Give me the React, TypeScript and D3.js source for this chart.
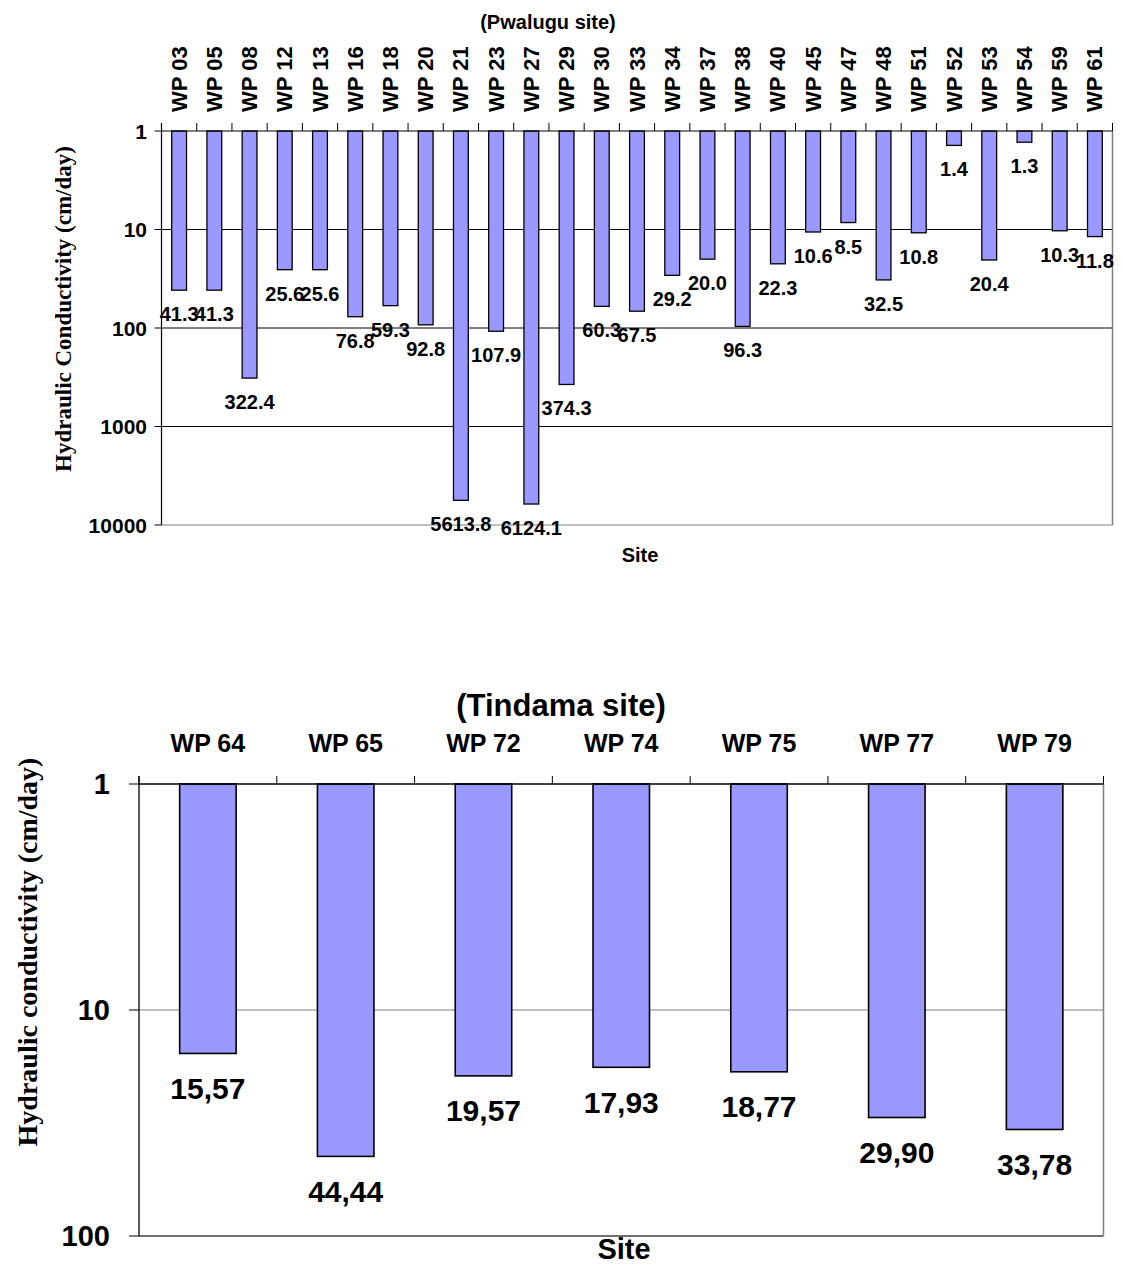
import React from 'react';
import * as d3 from 'd3';

// Pwalugu site (top chart)
const pwaluguSites = [
  'WP 03', 'WP 05', 'WP 08', 'WP 12', 'WP 13', 'WP 16', 'WP 18', 'WP 20', 'WP 21',
  'WP 23', 'WP 27', 'WP 29', 'WP 30', 'WP 33', 'WP 34', 'WP 37', 'WP 38', 'WP 40',
  'WP 45', 'WP 47', 'WP 48', 'WP 51', 'WP 52', 'WP 53', 'WP 54', 'WP 59', 'WP 61'
];
const pwaluguK = [
  41.3, 41.3, 322.4, 25.6, 25.6, 76.8, 59.3, 92.8, 5613.8,
  107.9, 6124.1, 374.3, 60.3, 67.5, 29.2, 20.0, 96.3, 22.3,
  10.6, 8.5, 32.5, 10.8, 1.4, 20.4, 1.3, 10.3, 11.8
];
const pwaluguTicks = [1, 10, 100, 1000, 10000];

// Tindama site (bottom chart)
const tindamaSites = ['WP 64', 'WP 65', 'WP 72', 'WP 74', 'WP 75', 'WP 77', 'WP 79'];
const tindamaK = [15.57, 44.44, 19.57, 17.93, 18.77, 29.9, 33.78];
const tindamaTicks = [1, 10, 100];

const SANS = 'Arial, "Liberation Sans", Helvetica, sans-serif';
const SERIF = '"Times New Roman", "Liberation Serif", serif';
const BAR = '#9999FF';

const fmtTop = d3.format('.1f');
const fmtBottom = (v: number) => d3.format('.2f')(v).replace('.', ',');

function TopChart() {
  const left = 161.5, right = 1112.5, top = 131, bottom = 525;
  const x = d3.scaleBand<string>().domain(pwaluguSites).range([left, right]).paddingInner(0.58).paddingOuter(0.29);
  const y = d3.scaleLog().domain([1, 10000]).range([top, bottom]);
  const step = x.step();
  const bounds = d3.range(pwaluguSites.length + 1).map(i => left + i * step);

  return (
    <g>
      <text x={548} y={22} textAnchor="middle" dominantBaseline="central" fontFamily={SANS} fontWeight="bold" fontSize={20}>(Pwalugu site)</text>
      {/* grid */}
      {pwaluguTicks.slice(1).map(t => (
        <line key={t} x1={left} x2={right} y1={y(t)} y2={y(t)} stroke={t === 10000 ? '#808080' : '#000'} strokeWidth={1} />
      ))}
      <line x1={right} x2={right} y1={top} y2={bottom} stroke="#808080" strokeWidth={1.5} />
      {/* bars */}
      {pwaluguSites.map((s, i) => (
        <rect key={s} x={x(s)} y={y(1)} width={x.bandwidth()} height={y(pwaluguK[i]) - y(1)} fill={BAR} stroke="#000" strokeWidth={1.3} />
      ))}
      {/* axes */}
      <line x1={left} x2={right} y1={top} y2={top} stroke="#000" strokeWidth={1.2} />
      <line x1={left} x2={left} y1={top - 8} y2={bottom} stroke="#000" strokeWidth={1.2} />
      {bounds.map((b, i) => (
        <line key={i} x1={b} x2={b} y1={top - 8} y2={top} stroke="#000" strokeWidth={1} />
      ))}
      {pwaluguTicks.map(t => (
        <g key={t}>
          <line x1={left - 7} x2={left} y1={y(t)} y2={y(t)} stroke="#000" strokeWidth={1} />
          <text x={147} y={y(t)} textAnchor="end" dominantBaseline="central" fontFamily={SANS} fontWeight="bold" fontSize={21}>{t}</text>
        </g>
      ))}
      {pwaluguSites.map(s => (
        <text key={s} transform={`translate(${x(s)! + x.bandwidth() / 2},112) rotate(-90)`} textAnchor="start" dominantBaseline="central" fontFamily={SANS} fontWeight="bold" fontSize={22}>{s}</text>
      ))}
      {pwaluguSites.map((s, i) => (
        <text key={s} x={x(s)! + x.bandwidth() / 2} y={y(pwaluguK[i]) + 24} textAnchor="middle" dominantBaseline="central" fontFamily={SANS} fontWeight="bold" fontSize={20}>{fmtTop(pwaluguK[i])}</text>
      ))}
      <text x={640} y={555} textAnchor="middle" dominantBaseline="central" fontFamily={SANS} fontWeight="bold" fontSize={20}>Site</text>
      <text transform="translate(63,309) rotate(-90)" textAnchor="middle" dominantBaseline="central" fontFamily={SERIF} fontWeight="bold" fontSize={23}>Hydraulic Conductivity (cm/day)</text>
    </g>
  );
}

function BottomChart() {
  const left = 139, right = 1103.5, top = 784, bottom = 1236;
  const x = d3.scaleBand<string>().domain(tindamaSites).range([left, right]).paddingInner(0.59).paddingOuter(0.295);
  const y = d3.scaleLog().domain([1, 100]).range([top, bottom]);
  const step = x.step();
  const bounds = d3.range(tindamaSites.length + 1).map(i => left + i * step);

  return (
    <g>
      <text x={561} y={705} textAnchor="middle" dominantBaseline="central" fontFamily={SANS} fontWeight="bold" fontSize={31}>(Tindama site)</text>
      <line x1={left} x2={right} y1={y(10)} y2={y(10)} stroke="#808080" strokeWidth={1.2} />
      <line x1={left} x2={right} y1={bottom} y2={bottom} stroke="#404040" strokeWidth={1.5} />
      <line x1={right} x2={right} y1={top} y2={bottom} stroke="#808080" strokeWidth={1.5} />
      {tindamaSites.map((s, i) => (
        <rect key={s} x={x(s)} y={y(1)} width={x.bandwidth()} height={y(tindamaK[i]) - y(1)} fill={BAR} stroke="#000" strokeWidth={1.6} />
      ))}
      <line x1={left} x2={right} y1={top} y2={top} stroke="#000" strokeWidth={1.3} />
      <line x1={left} x2={left} y1={top - 8} y2={bottom} stroke="#000" strokeWidth={1.3} />
      {bounds.map((b, i) => (
        <line key={i} x1={b} x2={b} y1={top - 8} y2={top} stroke="#000" strokeWidth={1} />
      ))}
      {tindamaTicks.map(t => (
        <g key={t}>
          <line x1={left - 10} x2={left} y1={y(t)} y2={y(t)} stroke="#000" strokeWidth={1} />
          <text x={110} y={y(t)} textAnchor="end" dominantBaseline="central" fontFamily={SANS} fontWeight="bold" fontSize={29}>{t}</text>
        </g>
      ))}
      {tindamaSites.map(s => (
        <text key={s} x={x(s)! + x.bandwidth() / 2} y={743} textAnchor="middle" dominantBaseline="central" fontFamily={SANS} fontWeight="bold" fontSize={25}>{s}</text>
      ))}
      {tindamaSites.map((s, i) => (
        <text key={s} x={x(s)! + x.bandwidth() / 2} y={y(tindamaK[i]) + 35} textAnchor="middle" dominantBaseline="central" fontFamily={SANS} fontWeight="bold" fontSize={30}>{fmtBottom(tindamaK[i])}</text>
      ))}
      <text x={624} y={1249} textAnchor="middle" dominantBaseline="central" fontFamily={SANS} fontWeight="bold" fontSize={29}>Site</text>
      <text transform="translate(27,952) rotate(-90)" textAnchor="middle" dominantBaseline="central" fontFamily={SERIF} fontWeight="bold" fontSize={28}>Hydraulic conductivity (cm/day)</text>
    </g>
  );
}

export default function App() {
  return (
    <svg width={1122} height={1266} style={{ position: 'absolute', left: 0, top: 0, background: '#fff' }}>
      <rect width={1122} height={1266} fill="#fff" />
      <TopChart />
      <BottomChart />
    </svg>
  );
}
